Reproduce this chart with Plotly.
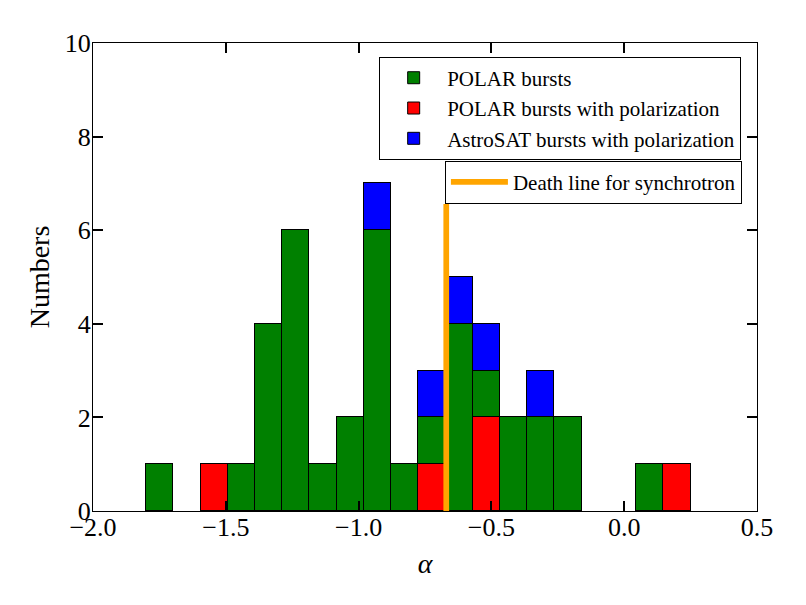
import plotly.graph_objects as go

# Histogram bins (alpha), 20 bins from -1.80 to 0.25
bin_start = -1.80
bin_width = 0.1025
n_bins = 20

red_counts = [0, 0, 1, 0, 0, 0, 0, 0, 0, 0, 1, 0, 2, 0, 0, 0, 0, 0, 0, 1]
green_counts = [1, 0, 0, 1, 4, 6, 1, 2, 6, 1, 1, 4, 1, 2, 2, 2, 0, 0, 1, 0]
blue_counts = [0, 0, 0, 0, 0, 0, 0, 0, 1, 0, 1, 1, 1, 0, 1, 0, 0, 0, 0, 0]

death_line_x = -0.67
death_line_y = [0, 6.56]

x_ticks = [-2.0, -1.5, -1.0, -0.5, 0.0, 0.5]
y_ticks = [0, 2, 4, 6, 8, 10]

centers = [bin_start + bin_width * (i + 0.5) for i in range(n_bins)]

def nz(v):
    return [c if c else None for c in v]

FONT = "Liberation Serif"

fig = go.Figure()
fig.add_trace(go.Bar(x=centers, y=nz(red_counts), width=bin_width,
                     name="POLAR bursts with polarization", legendrank=2,
                     marker=dict(color="#ff0000", line=dict(color="black", width=1))))
fig.add_trace(go.Bar(x=centers, y=nz(green_counts), width=bin_width,
                     name="POLAR bursts", legendrank=1,
                     marker=dict(color="#008000", line=dict(color="black", width=1))))
fig.add_trace(go.Bar(x=centers, y=nz(blue_counts), width=bin_width,
                     name="AstroSAT bursts with polarization", legendrank=3,
                     marker=dict(color="#0000ff", line=dict(color="black", width=1))))
fig.add_trace(go.Scatter(x=[death_line_x, death_line_x], y=death_line_y, mode="lines",
                         name="Death line for synchrotron", legend="legend2",
                         line=dict(color="#ffa500", width=5.7)))

axis_common = dict(showline=True, linecolor="black", linewidth=1, mirror="ticks",
                   ticks="inside", ticklen=10, tickwidth=1.5, tickcolor="black",
                   showgrid=False, zeroline=False,
                   tickfont=dict(family=FONT, size=26, color="black"))

fig.update_layout(
    width=798, height=597,
    margin=dict(l=85, r=49, t=35, b=94),
    paper_bgcolor="white", plot_bgcolor="white",
    barmode="stack", bargap=0,
    font=dict(family=FONT, color="black"),
    xaxis=dict(range=[-2.0, 0.5], tickvals=x_ticks, tickformat=".1f",
               ticklabelstandoff=-7,
               title=dict(text="<i>α</i>", font=dict(family=FONT, size=28), standoff=12),
               **axis_common),
    yaxis=dict(range=[0, 10], tickvals=y_ticks, tickformat="d",
               ticklabelstandoff=-4,
               title=dict(text="Numbers", font=dict(family=FONT, size=28), standoff=6),
               **axis_common),
    legend=dict(x=0.431, y=0.971, xanchor="left", yanchor="top",
                bordercolor="black", borderwidth=1, bgcolor="white", itemwidth=57,
                font=dict(family=FONT, size=21), traceorder="normal"),
    legend2=dict(x=0.530, y=0.7485, xanchor="left", yanchor="top",
                 bordercolor="black", borderwidth=1, bgcolor="white", itemwidth=57,
                 font=dict(family=FONT, size=21)),
)

fig.write_html("out.html")
